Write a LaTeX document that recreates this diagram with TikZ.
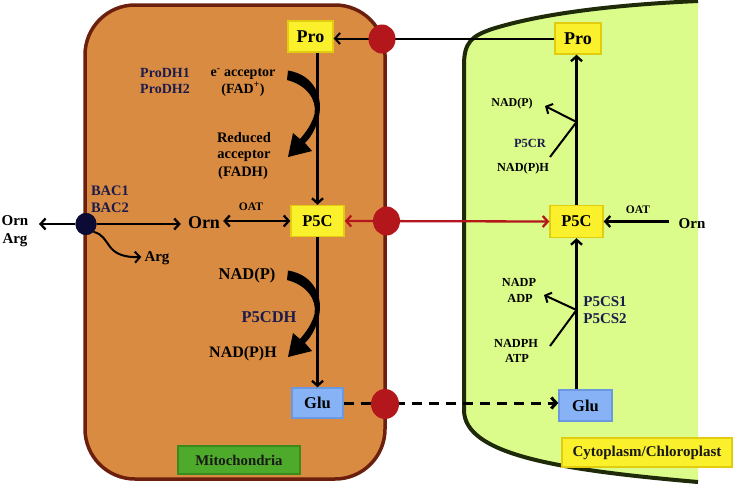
\documentclass[tikz,border=0pt]{standalone}
\usepackage{fontspec}
\setmainfont{Liberation Serif}
\usetikzlibrary{arrows.meta,shapes.geometric}
\definecolor{mitofill}{HTML}{DA8B42}
\definecolor{mitoline}{HTML}{6B1F0C}
\definecolor{cytofill}{HTML}{DBFC8A}
\definecolor{cytoline}{HTML}{1E2A08}
\definecolor{boxyel}{HTML}{FAF02C}
\definecolor{boxyeld}{HTML}{E2CC10}
\definecolor{boxblue}{HTML}{88B2F6}
\definecolor{boxblued}{HTML}{6C98E0}
\definecolor{mitolab}{HTML}{4EAA2A}
\definecolor{mitolabd}{HTML}{3A8A1E}
\definecolor{portred}{HTML}{B3161B}
\definecolor{navy}{HTML}{1B1B4B}
\definecolor{bacnavy}{HTML}{0B0B36}
\begin{document}
\begin{tikzpicture}[x=1pt,y=-1pt,
  >={Straight Barb[length=5pt,width=11pt]},
  met/.style={draw, line width=1.4pt, inner sep=0pt, font=\fontsize{#1}{#1}\selectfont\bfseries},
  ymet/.style={met=#1, fill=boxyel, draw=boxyeld},
  bmet/.style={met=#1, fill=boxblue, draw=boxblued},
  txt/.style={inner sep=0pt, anchor=base, font=\fontsize{#1}{#1}\selectfont\bfseries},
  ntxt/.style={txt=#1, text=navy},
  port/.style={ellipse, fill=portred, inner sep=0pt, minimum width=27pt, minimum height=29pt},
  conn/.style={line width=2.3pt, ->},
  thin/.style={line width=2pt},
  redconn/.style={line width=2.3pt, draw=portred, {Straight Barb[length=5pt,width=11pt]}-{Straight Barb[length=5pt,width=11pt]}},
  dashconn/.style={line width=3pt, dash pattern=on 10pt off 7pt, ->},
  tag/.style={draw, line width=1.5pt, inner sep=0pt, font=\fontsize{#1}{#1}\selectfont\bfseries, text=black!90}
]
\useasboundingbox (0,0) rectangle (738,485);
\fill[white] (0,0) rectangle (738,485);

% compartments
\draw[fill=mitofill, draw=mitoline, line width=3.5pt, rounded corners=50pt] (85,5) rectangle (385,479);
\fill[cytofill] (698,1) .. controls (610,5) and (540,14) .. (492,29)
   .. controls (472,36) and (464,42) .. (464,65) -- (464,410)
   .. controls (464,455) and (560,470) .. (698,482) -- cycle;
\draw[cytoline, line width=4pt] (698,1) .. controls (610,5) and (540,14) .. (492,29)
   .. controls (472,36) and (464,42) .. (464,65) -- (464,410)
   .. controls (464,455) and (560,470) .. (698,482);

% metabolites
\node[ymet=18, minimum width=45pt, minimum height=31pt] (proM) at (310.5,36.5) {Pro};
\node[ymet=16.5, minimum width=53pt, minimum height=31pt] (p5cM) at (317.5,221) {P5C};
\node[bmet=16.5, minimum width=51pt, minimum height=30pt] (gluM) at (317.5,403) {Glu};
\node[ymet=18, minimum width=46pt, minimum height=31pt] (proC) at (578,38.5) {Pro};
\node[ymet=16.5, minimum width=53pt, minimum height=32pt] (p5cC) at (576.5,221.5) {P5C};
\node[bmet=16.5, minimum width=53pt, minimum height=31pt] (gluC) at (585.5,405.5) {Glu};

% labels, mitochondria
\node[ntxt=14] (prodh1) at (165,77) {ProDH1};
\node[ntxt=14] (prodh2) at (165,93) {ProDH2};
\node[txt=14] (eacc) at (243,76.5) {e\textsuperscript{-} acceptor};
\node[txt=14] (fadp) at (243,93) {(FAD\textsuperscript{+})};
\node[txt=14.5] (red1) at (244,142) {Reduced};
\node[txt=14.5] (red2) at (244,158.5) {acceptor};
\node[txt=14.5] (red3) at (243,176.5) {(FADH)};
\node[ntxt=14.5] (bac1) at (110,195) {BAC1};
\node[ntxt=14.5] (bac2) at (110,212) {BAC2};
\node[txt=15] (ornL) at (15,225) {Orn};
\node[txt=15] (argL) at (15,243) {Arg};
\node[txt=11.5] (oatM) at (251,210) {OAT};
\node[txt=18] (ornM) at (204,228) {Orn};
\node[txt=15] (argM) at (157,261) {Arg};
\node[txt=16.5] (nadpM) at (247,279.5) {NAD(P)};
\node[ntxt=16.5] (p5cdh) at (269,322) {P5CDH};
\node[txt=16] (nadphM) at (243,357) {NAD(P)H};

% labels, cytoplasm
\node[txt=12] (nadpC) at (512,106) {NAD(P)};
\node[ntxt=12.5] (p5cr) at (530,147) {P5CR};
\node[txt=12.3] (nadphC) at (523,171.5) {NAD(P)H};
\node[txt=11.5] (oatC) at (638,213) {OAT};
\node[txt=15] (ornC) at (692,228) {Orn};
\node[txt=12.3] (nadp2) at (519,286) {NADP};
\node[txt=12.3] (adp) at (520,302) {ADP};
\node[txt=12.3] (nadph2) at (516,347) {NADPH};
\node[txt=12.3] (atp) at (517,362) {ATP};
\node[ntxt=15] (p5cs1) at (605,306) {P5CS1};
\node[ntxt=15] (p5cs2) at (605,323) {P5CS2};

% compartment tags
\node[tag=14.8, fill=mitolab, draw=mitolabd, minimum width=122pt, minimum height=28pt] (mitotag) at (239,460) {Mitochondria};
\node[tag=15, fill=boxyel, draw=boxyeld, minimum width=170pt, minimum height=29pt] (cytotag) at (647,452.5) {Cytoplasm/Chloroplast};

% coordinates for free ends
\coordinate (exL) at (39,224);
\coordinate (jA) at (576.5,122);
\coordinate (jAout) at (545,106);
\coordinate (jAin) at (550,157);
\coordinate (jB) at (576.5,310);
\coordinate (jBout) at (544,295);
\coordinate (jBin) at (550,346);

% connectors, mitochondria
\draw[conn] (p5cM.north |- proM.south) -- (p5cM.north);
\draw[conn] (p5cM.south) -- (gluM.north);
% tapered side arrows (FAD and NAD(P))
\foreach \dy in {0,200} {
  \begin{scope}[shift={(0,\dy)}]
    \fill (288,70.5) .. controls (315,75) and (323,98) .. (319,116)
      .. controls (316,129) and (311,137) .. (305,143) -- (312,151) -- (288,157) -- (293,133) -- (300,139)
      .. controls (306,132) and (312,124) .. (314.5,114)
      .. controls (317,100) and (307,85) .. (287,80) -- cycle;
  \end{scope}
}
\draw[conn, <->, shorten <=3pt] (ornM.east |- p5cM.west) -- (p5cM.west);

% transport
\draw[thin, ->] (proC.west) -- (proC.west -| proM.east);
\draw[redconn] (p5cM.east) -- (p5cC.west);
\draw[dashconn] (gluM.east) -- (gluM.east -| gluC.west);

% connectors, cytoplasm
\draw[conn] (p5cC.north) -- (p5cC.north |- proC.south);
\draw[conn] (p5cC.south |- gluC.north) -- (p5cC.south);
\draw[conn, shorten <=9pt] (ornC.west |- p5cC.east) -- (p5cC.east);
\draw[thin, ->] (jA) -- (jAout);
\draw[thin] (jAin) -- (jA);
\draw[thin, ->] (jB) -- (jBout);
\draw[thin] (jBin) -- (jB);

% carriers
\node[port] (rc1) at (382,39) {};
\node[port] (rc2) at (386.5,221) {};
\node[port, minimum width=28pt, minimum height=30pt] (rc3) at (385,404) {};
\node[ellipse, fill=bacnavy, inner sep=0pt, minimum width=21pt, minimum height=22pt] (bac) at (86,224) {};
\draw[conn] (bac) -- (exL);
\draw[conn, shorten >=7pt] (bac) -- (ornM.west |- bac);
\draw[thin, ->] (bac.south east) .. controls (112,236) and (103,258) .. ([xshift=-3pt]argM.west |- 0,257);
\node[ellipse, fill=bacnavy, inner sep=0pt, minimum width=21pt, minimum height=22pt] at (bac) {};
\end{tikzpicture}
\end{document}
